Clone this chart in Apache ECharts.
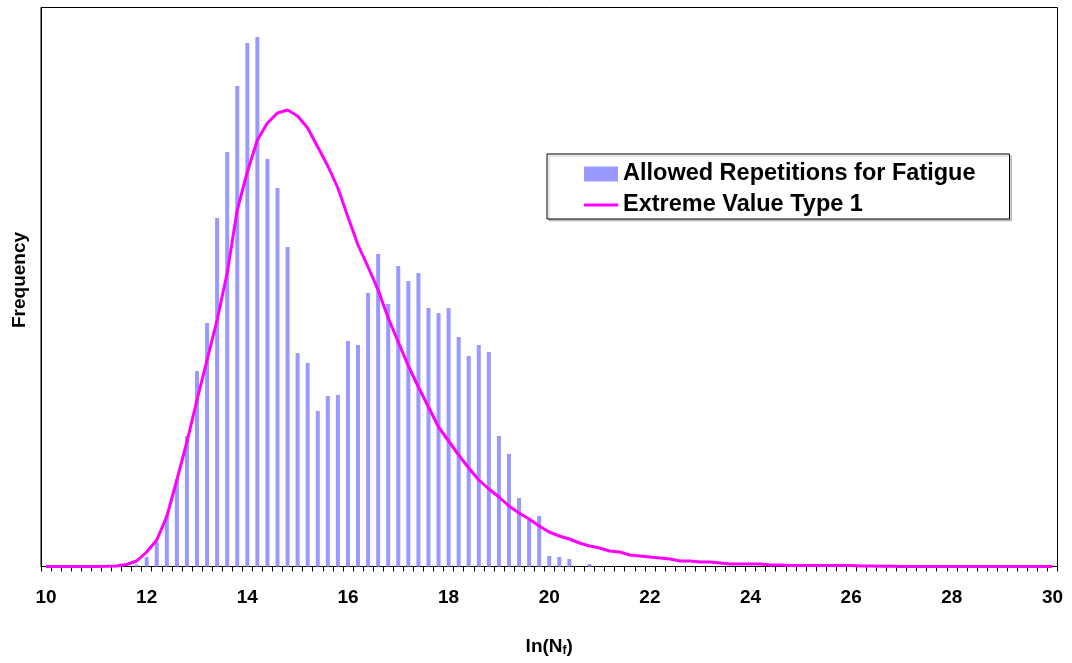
<!DOCTYPE html>
<html>
<head>
<meta charset="utf-8">
<script src="https://cdn.jsdelivr.net/npm/echarts@6/dist/echarts.min.js"></script>
<style>
html,body{margin:0;padding:0;background:#fff;}
#chart{width:1072px;height:663px;}
</style>
</head>
<body>
<div id="chart"></div>
<script>
// Bin labels: ln(Nf) from 10 to 30 in steps of 0.2 (101 categories)
const categories = [
 '10','10.2','10.4','10.6','10.8','11','11.2','11.4','11.6','11.8',
 '12','12.2','12.4','12.6','12.8','13','13.2','13.4','13.6','13.8',
 '14','14.2','14.4','14.6','14.8','15','15.2','15.4','15.6','15.8',
 '16','16.2','16.4','16.6','16.8','17','17.2','17.4','17.6','17.8',
 '18','18.2','18.4','18.6','18.8','19','19.2','19.4','19.6','19.8',
 '20','20.2','20.4','20.6','20.8','21','21.2','21.4','21.6','21.8',
 '22','22.2','22.4','22.6','22.8','23','23.2','23.4','23.6','23.8',
 '24','24.2','24.4','24.6','24.8','25','25.2','25.4','25.6','25.8',
 '26','26.2','26.4','26.6','26.8','27','27.2','27.4','27.6','27.8',
 '28','28.2','28.4','28.6','28.8','29','29.2','29.4','29.6','29.8',
 '30'
];
// Shown tick labels
const tickLabels = ['10','12','14','16','18','20','22','24','26','28','30'];

// Histogram frequencies (relative units)
const histogram = [
 0,0,0,0,0,0,0,0,0,2,
 9.5,24.5,51.5,87.5,130.5,195.5,243.5,348.5,414.5,480.5,
 523.5,529.5,407.5,378.5,319.5,213.5,203.5,155.5,170.5,171.5,
 225.5,221.5,273.5,312.5,262.5,300.5,285.5,293.5,258.5,253.5,
 258.5,229.5,210.5,221.5,214.5,130.5,112.5,68.5,46.5,50.5,
 10.5,9.5,7.5,0,2.5,0,0,0,0,0,
 0,0,0,0,0,0,0,0,0,0,
 0,0,0,0,0,0,0,0,0,0,
 0,0,0,0,0,0,0,0,0,0,
 0,0,0,0,0,0,0,0,0,0,
 0
];

// Fitted Extreme Value Type 1 curve (same relative units)
const evFit = [
 0,0,0,0,0,0,0.2,0.5,2,5.5,
 14.5,26.5,50,86.5,124.5,166.5,206.5,246.5,293.5,356.5,
 394.5,426.5,443.5,453.5,456.5,450.5,438.5,419.5,400.5,378.5,
 349.5,321.5,299.5,276.5,248.5,224.5,200.5,179.5,159.5,139.5,
 125.5,111.5,98.5,86.5,77.5,69.5,60.5,53.5,47.5,40.5,
 34.5,30.5,27.5,23.5,20.5,18.5,15.5,14.5,11.5,10.5,
 9.5,8.5,7.5,5.5,5.5,4.5,4.5,3.5,2.5,2.5,
 2.5,2.5,1.5,1.5,1,1,1,1,1,1,
 1,0.5,0.5,0.3,0.2,0.1,0,0,0,0,
 0,0,0,0,0,0,0,0,0,0,
 0
];

const FONT = '"Liberation Sans", Arial, sans-serif';
const chart = echarts.init(document.getElementById('chart'), null, {renderer:'canvas'});
chart.setOption({
  animation: false,
  backgroundColor: '#fff',
  grid: {
    left: 41, right: 14.5, top: 7.5, bottom: 96.5,
    show: true, borderColor: '#000', borderWidth: 1, backgroundColor: 'transparent',
    containLabel: false
  },
  legend: {
    orient: 'vertical',
    left: 547, top: 154,
    padding: [8, 34, 2, 37],
    itemWidth: 34, itemHeight: 15, itemGap: 7,
    symbolKeepAspect: true,
    borderColor: '#000', borderWidth: 1,
    backgroundColor: '#fff',
    shadowColor: 'rgba(0,0,0,0.2)', shadowOffsetX: 2, shadowOffsetY: 2, shadowBlur: 0,
    textStyle: { fontFamily: FONT, fontWeight: 'bold', fontSize: 23.5, color: '#000', lineHeight: 24 },
    data: [
      { name: 'Allowed Repetitions for Fatigue', icon: 'rect' },
      { name: 'Extreme Value Type 1', icon: 'path://M0,0 L34,0 L34,3 L0,3 Z' }
    ]
  },
  xAxis: {
    type: 'category',
    data: categories,
    boundaryGap: true,
    axisLine: { show: true, lineStyle: { color: '#000', width: 1 } },
    axisTick: { show: true, interval: 0, length: 5, lineStyle: { color: '#000' } },
    axisLabel: {
      interval: 0,
      margin: 22,
      fontFamily: FONT, fontWeight: 'bold', fontSize: 19, color: '#000',
      formatter: function (v) { return tickLabels.indexOf(v) >= 0 ? v : ''; }
    },
    splitLine: { show: false },
    name: 'ln(N{sub|f})',
    nameLocation: 'middle',
    nameGap: 70,
    nameTextStyle: {
      fontFamily: FONT, fontWeight: 'bold', fontSize: 19, color: '#000',
      rich: { sub: { fontFamily: FONT, fontWeight: 'bold', fontSize: 12, color: '#000', verticalAlign: 'bottom', padding: [8, 0, 0, 0] } }
    }
  },
  yAxis: {
    type: 'value',
    min: 0, max: 559,
    axisLine: { show: true, lineStyle: { color: '#000' } },
    axisTick: { show: false },
    axisLabel: { show: false },
    splitLine: { show: false },
    name: 'Frequency',
    nameLocation: 'middle',
    nameRotate: 90,
    nameGap: 12,
    nameTextStyle: { fontFamily: FONT, fontWeight: 'bold', fontSize: 19, color: '#000', padding: [0, 0, 0, 14] }
  },
  series: [
    {
      name: 'Allowed Repetitions for Fatigue',
      type: 'bar',
      data: histogram,
      barWidth: 4,
      itemStyle: { color: '#9999FF' },
      z: 2
    },
    {
      name: 'Extreme Value Type 1',
      type: 'line',
      data: evFit,
      symbol: 'none',
      smooth: false,
      lineStyle: { color: '#FF00FF', width: 3 },
      itemStyle: { color: '#FF00FF' },
      z: 3
    }
  ]
});
</script>
</body>
</html>
